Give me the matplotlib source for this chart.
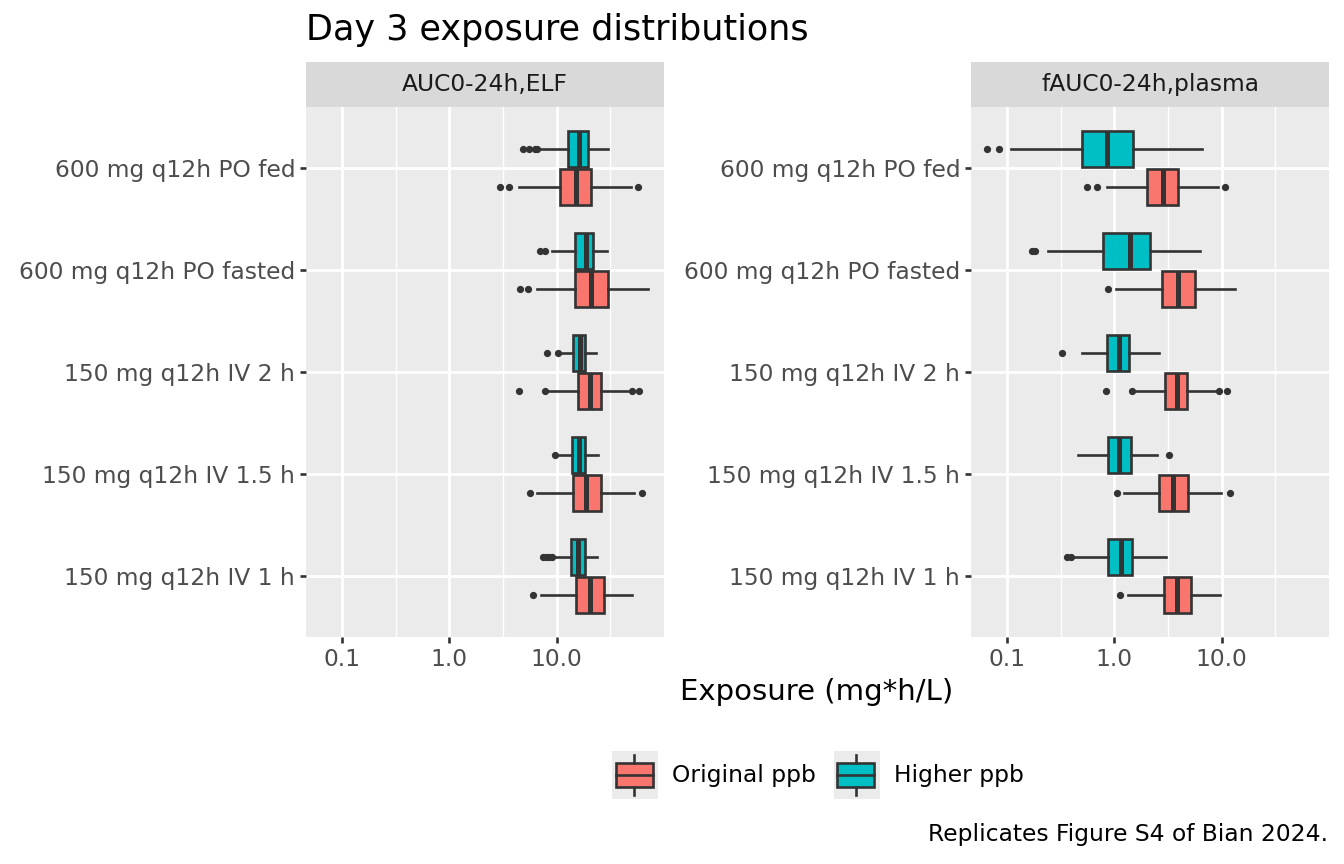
import matplotlib
matplotlib.use("Agg")
import matplotlib.pyplot as plt
import numpy as np
from matplotlib.patches import Rectangle, Patch
from matplotlib.lines import Line2D
from matplotlib.legend_handler import HandlerBase

# categories, bottom to top
categories = ["150 mg q12h IV 1 h", "150 mg q12h IV 1.5 h", "150 mg q12h IV 2 h",
              "600 mg q12h PO fasted", "600 mg q12h PO fed"]
facets = ["AUC0-24h,ELF", "fAUC0-24h,plasma"]
groups = ["Original ppb", "Higher ppb"]

# each row: whisker low, Q1, median, Q3, whisker high
elf_original = [[7.13, 15.2, 20.7, 27.5, 50.8],
                [6.59, 14.1, 19.0, 26.2, 52.6],
                [8.51, 16.0, 20.7, 25.8, 46.2],
                [6.50, 14.8, 20.9, 30.1, 71.0],
                [4.48, 10.8, 15.2, 21.1, 49.7]]
elf_original_out = [[6.04], [5.63, 63.0], [4.48, 7.82, 50.4, 59.4], [4.55, 5.36], [2.96, 3.62, 57.3]]

elf_higher = [[9.48, 13.6, 15.9, 18.6, 24.0],
              [10.3, 13.9, 16.1, 18.6, 24.3],
              [10.7, 14.2, 16.4, 18.3, 23.2],
              [9.16, 14.8, 18.7, 21.9, 29.3],
              [6.73, 12.8, 16.2, 19.8, 30.1]]
elf_higher_out = [[7.49, 7.94, 8.46, 9.02], [9.68], [8.1, 10.3], [6.98, 7.88], [4.82, 5.55, 6.27, 6.59]]

plasma_original = [[1.33, 2.88, 3.85, 5.20, 9.62],
                   [1.22, 2.62, 3.54, 4.88, 9.98],
                   [1.58, 2.96, 3.85, 4.77, 8.64],
                   [1.03, 2.78, 3.94, 5.63, 13.3],
                   [0.849, 2.00, 2.84, 3.94, 9.27]]
plasma_original_out = [[1.13], [1.06, 11.9], [0.843, 1.47, 9.42, 11.2], [0.88], [0.549, 0.686, 10.8]]

plasma_higher = [[0.401, 0.868, 1.14, 1.46, 3.01],
                 [0.453, 0.868, 1.11, 1.42, 2.51],
                 [0.493, 0.86, 1.11, 1.38, 2.62],
                 [0.24, 0.79, 1.41, 2.15, 6.31],
                 [0.109, 0.497, 0.855, 1.50, 6.59]]
plasma_higher_out = [[0.361, 0.39], [3.21], [0.321], [0.171, 0.183], [0.065, 0.0828]]

colors = {"Original ppb": "#F8766D", "Higher ppb": "#00BFC4"}
dark = "#333333"
W, H = 1344, 864
fs = 16.8


def stats(rows, outs):
    res = []
    for r, o in zip(rows, outs):
        res.append(dict(whislo=r[0], q1=r[1], med=r[2], q3=r[3], whishi=r[4], fliers=o))
    return res


def draw_panel(ax, data):
    pos = np.arange(len(categories))
    for g, off in zip(groups, [-0.1875, 0.1875]):
        rows, outs = data[g]
        ax.bxp(stats(rows, outs), positions=pos + off, widths=0.355,
               orientation="horizontal", showcaps=False, patch_artist=True,
               boxprops=dict(facecolor=colors[g], edgecolor=dark, linewidth=1.9),
               medianprops=dict(color=dark, linewidth=3.6, solid_capstyle="butt"),
               whiskerprops=dict(color=dark, linewidth=1.9),
               flierprops=dict(marker="o", markerfacecolor=dark, markeredgecolor=dark,
                               markersize=4.2))
    ax.set_xscale("log")
    ax.set_xlim(10 ** -1.339, 10 ** 2.003)
    ax.set_ylim(-0.6, 4.6)
    ax.set_facecolor("#EBEBEB")
    ax.set_xticks([0.1, 1, 10])
    ax.set_xticklabels(["0.1", "1.0", "10.0"])
    ax.set_xticks([10 ** -0.5, 10 ** 0.5, 10 ** 1.5], minor=True)
    ax.xaxis.set_minor_formatter(matplotlib.ticker.NullFormatter())
    ax.set_yticks(pos)
    ax.set_yticklabels(categories)
    ax.grid(True, which="major", color="white", linewidth=2.0)
    ax.grid(True, which="minor", axis="x", color="white", linewidth=1.0)
    ax.set_axisbelow(True)
    ax.tick_params(which="major", length=4.6, width=1.9, color=dark, labelsize=fs,
                   labelcolor="#4D4D4D", pad=3.2)
    ax.tick_params(which="minor", length=0)
    for s in ax.spines.values():
        s.set_visible(False)


def add_strip(left, width, label):
    sax = fig.add_axes([left, 1 - 107 / H, width, 45 / H])
    sax.set_facecolor("#D9D9D9")
    sax.set_xticks([])
    sax.set_yticks([])
    for s in sax.spines.values():
        s.set_visible(False)
    sax.text(0.5, 0.5, label, ha="center", va="center", fontsize=fs, color="#1A1A1A",
             transform=sax.transAxes)


class BoxKey(HandlerBase):
    def create_artists(self, legend, orig_handle, xdescent, ydescent, width, height, fontsize, trans):
        x0, y0 = -xdescent, -ydescent
        bg = Rectangle((x0, y0), width, height, facecolor="#EBEBEB", edgecolor="none", transform=trans)
        box = Rectangle((x0 + 0.08 * width, y0 + 0.25 * height), 0.8 * width, 0.5 * height,
                        facecolor=orig_handle.get_facecolor(), edgecolor=dark, linewidth=1.9,
                        transform=trans)
        cx = x0 + 0.48 * width
        med = Line2D([x0 + 0.08 * width, x0 + 0.88 * width], [y0 + 0.5 * height] * 2,
                     color=dark, linewidth=1.9, transform=trans)
        w1 = Line2D([cx, cx], [y0 + 0.08 * height, y0 + 0.25 * height], color=dark, linewidth=1.9, transform=trans)
        w2 = Line2D([cx, cx], [y0 + 0.75 * height, y0 + 0.92 * height], color=dark, linewidth=1.9, transform=trans)
        return [bg, box, med, w1, w2]


fig = plt.figure(figsize=(W / 100, H / 100), dpi=100)

ax1 = fig.add_axes([306 / W, 1 - 637 / H, 358 / W, 530 / H])
ax2 = fig.add_axes([971 / W, 1 - 637 / H, 358 / W, 530 / H])
draw_panel(ax1, {"Original ppb": (elf_original, elf_original_out),
                 "Higher ppb": (elf_higher, elf_higher_out)})
draw_panel(ax2, {"Original ppb": (plasma_original, plasma_original_out),
                 "Higher ppb": (plasma_higher, plasma_higher_out)})
add_strip(306 / W, 358 / W, facets[0])
add_strip(971 / W, 358 / W, facets[1])

fig.text(306 / W, 1 - 40 / H, "Day 3 exposure distributions", fontsize=25.2, va="baseline", ha="left")
fig.text(817 / W, 1 - 692 / H, "Exposure (mg*h/L)", fontsize=21, ha="center", va="center")
fig.text(1328 / W, 1 - 834 / H, "Replicates Figure S4 of Bian 2024.", fontsize=fs, ha="right", va="center")

handles = [Patch(facecolor=colors[g]) for g in groups]
fig.legend(handles, groups, handler_map={Patch: BoxKey()}, loc="center",
           bbox_to_anchor=(818 / W, 1 - 775 / H), ncol=2, frameon=False, fontsize=fs,
           handlelength=1.97, handleheight=2.8, handletextpad=0.6, columnspacing=0.75)

fig.savefig("out.png", dpi=100)
